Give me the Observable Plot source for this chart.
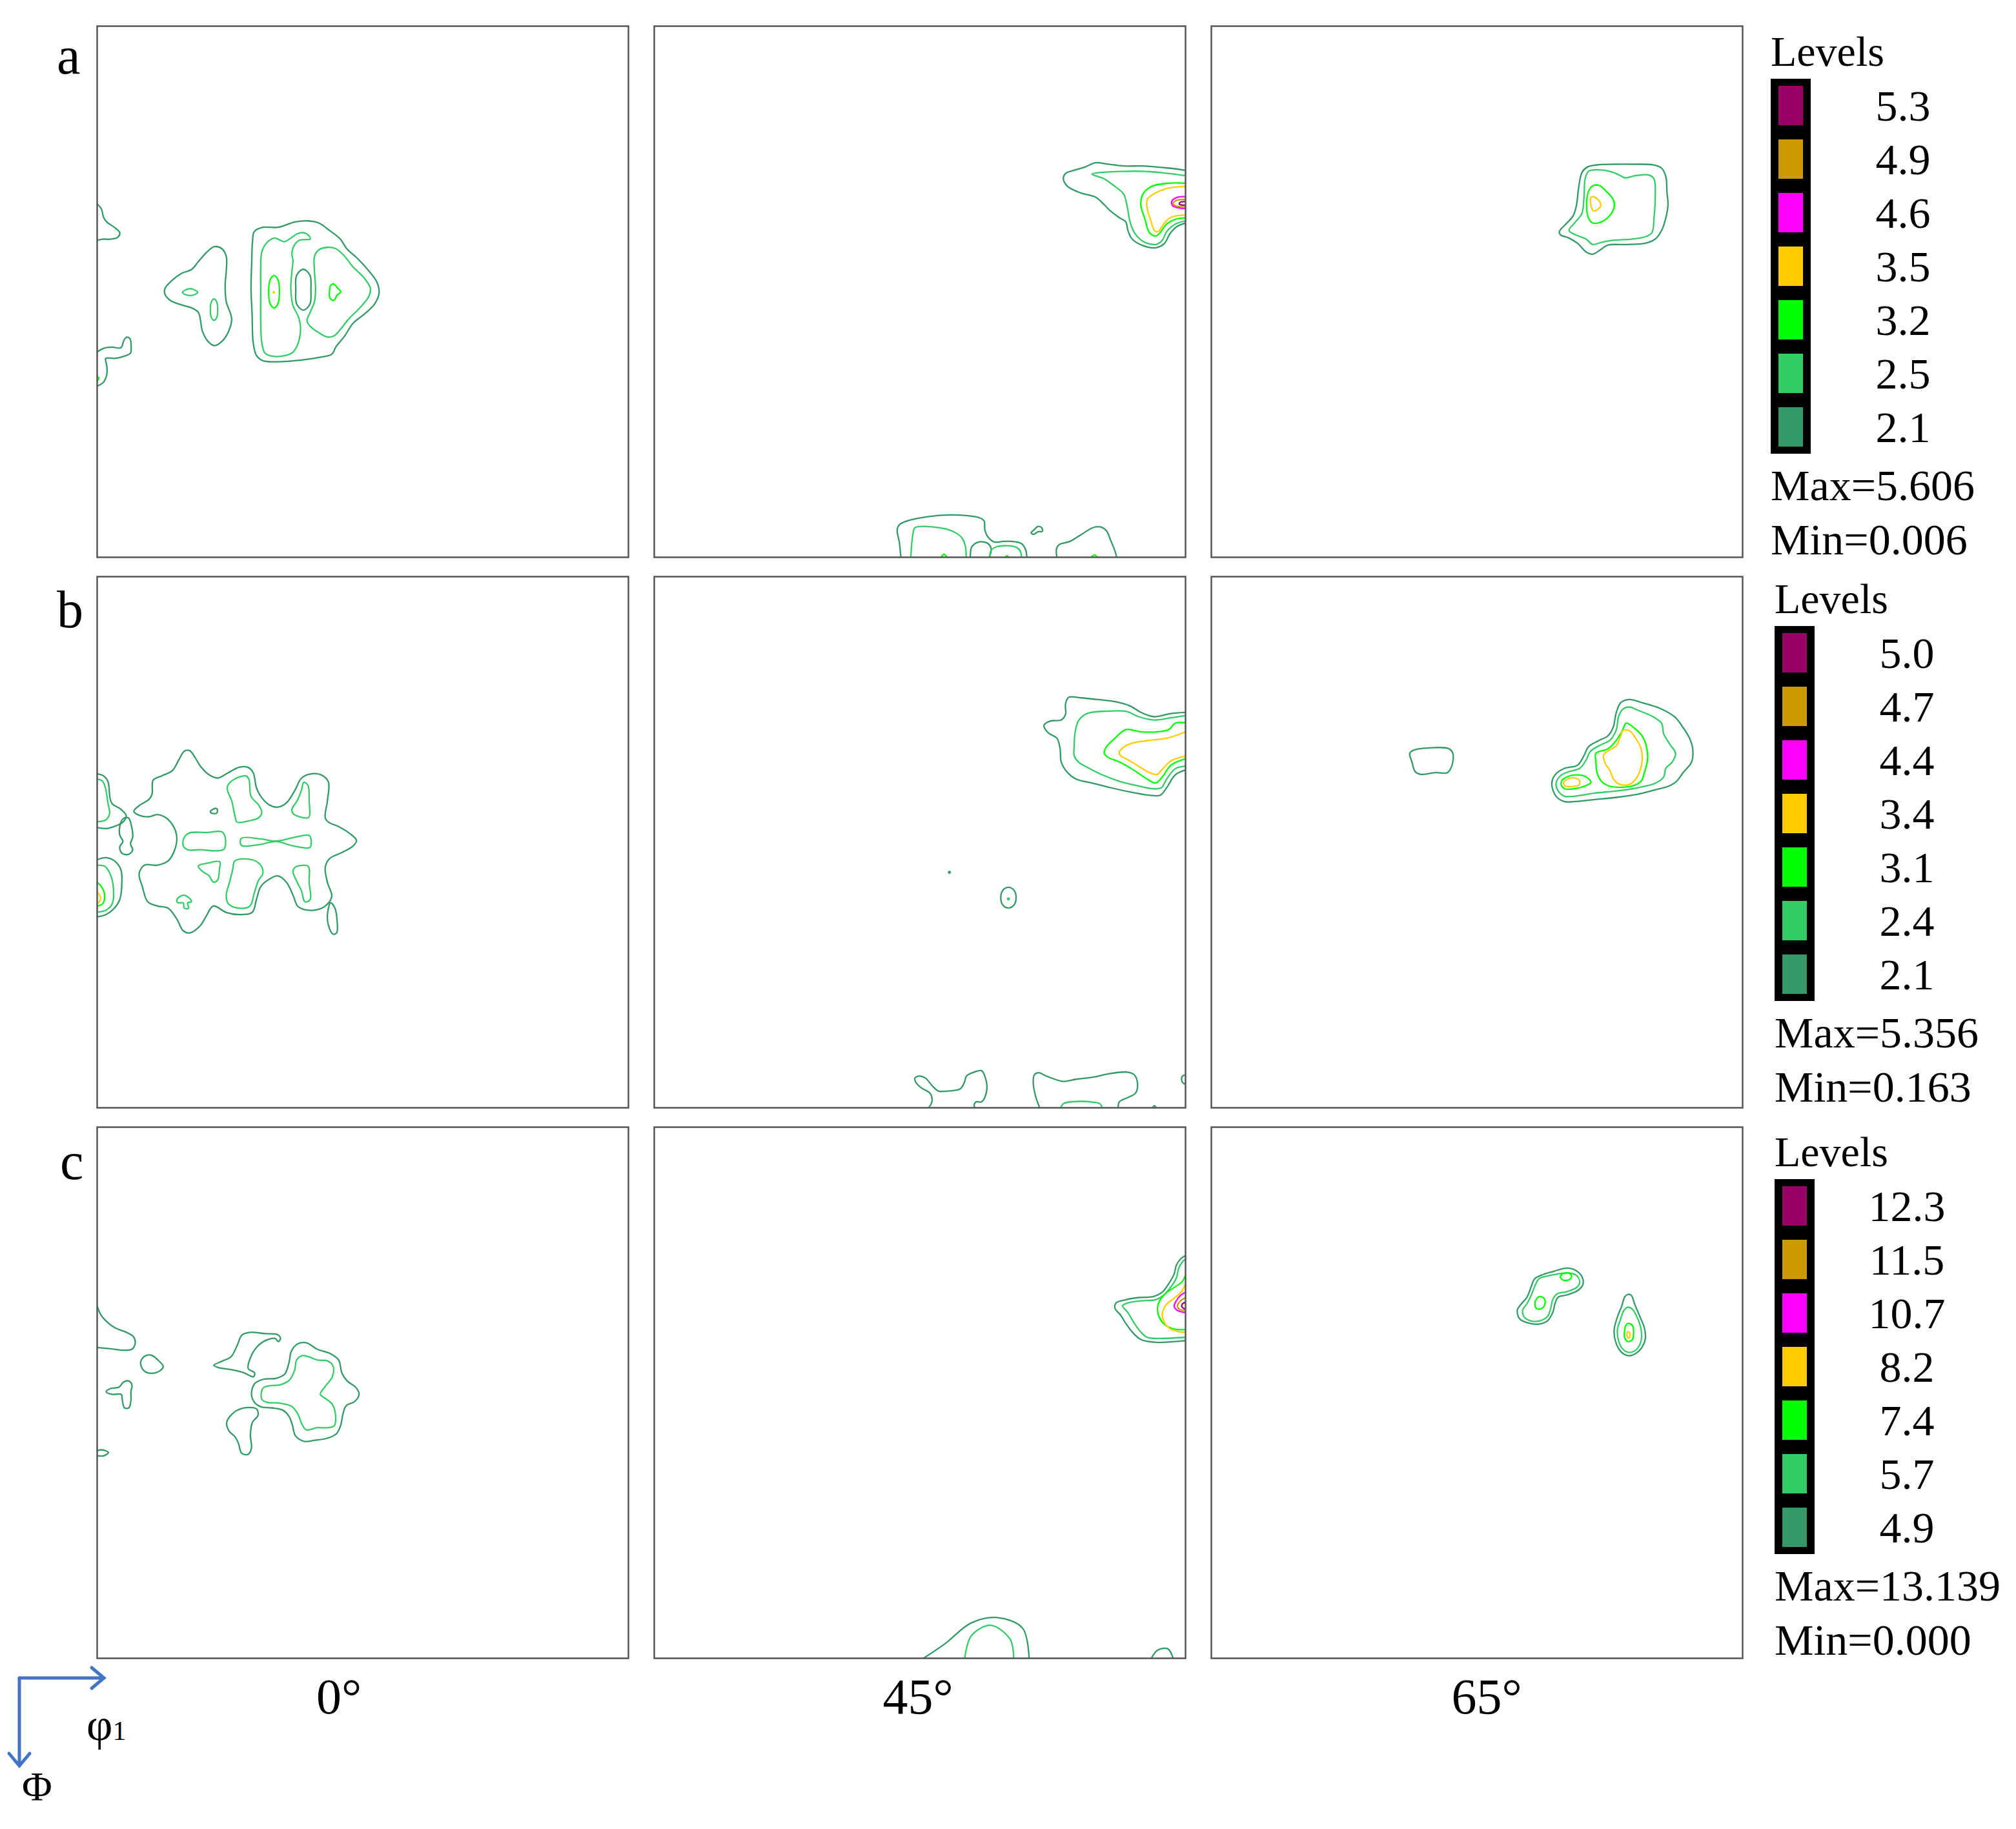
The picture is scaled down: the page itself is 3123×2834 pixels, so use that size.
<!DOCTYPE html>
<html><head><meta charset="utf-8">
<script src="https://cdn.jsdelivr.net/npm/d3@7"></script>
<script src="https://cdn.jsdelivr.net/npm/@observablehq/plot@0.6"></script>
<style>
html,body{margin:0;padding:0;background:#fff;}
#wrap{position:relative;width:3123px;height:2834px;background:#fff;}
#plot{position:absolute;left:148px;top:38px;}
#overlay{position:absolute;left:0;top:0;}
</style></head><body><div id="wrap"><div id="plot"></div></div>
<script>
// ---------- categories ----------
const sections = ["0°", "45°", "65°"];
const rows = ["a", "b", "c"];
// contour level colours, index 0 = lowest level
const levelColors = ["#339966", "#33CC66", "#00FF00", "#FFCC00", "#FF00FF", "#CC9900", "#990066"];
// legend level values (top = highest)
const levelsA = [5.3, 4.9, 4.6, 3.5, 3.2, 2.5, 2.1];
const levelsB = [5.0, 4.7, 4.4, 3.4, 3.1, 2.4, 2.1];
const levelsC = [12.3, 11.5, 10.7, 8.2, 7.4, 5.7, 4.9];
const maxMinA = [5.606, 0.006];
const maxMinB = [5.356, 0.163];
const maxMinC = [13.139, 0.000];

// ---------- contour lines: l = level index, c = closed, p = [phi1, Phi] in degrees ----------
const a0 = [
 {l:0,c:0,p:[[0,30.1],[0.73,31.0],[1.09,32.4],[1.64,33.2],[2.92,34.1],[3.83,35.0],[3.46,35.8],[2.19,36.1],[0.91,36.1],[0,36.3]]},
 {l:0,c:0,p:[[0,55.2],[1.09,54.6],[2.55,54.4],[4.01,54.5],[4.56,53.2],[5.03,52.7],[5.58,53.0],[5.76,54.5],[5.65,55.4],[4.37,56.0],[2.92,56.3],[1.46,56.3],[1.64,57.6],[1.64,59.0],[1.09,60.3],[0,61.0]]},
 {l:2,c:0,p:[[0,59.3],[0.3,59.7],[0,60.1]]},
 {l:0,c:1,p:[[11.48,44.48],[12.76,43.02],[14.22,41.93],[16.04,41.2],[17.13,39.92],[18.59,38.28],[19.87,37.37],[21.14,37.73],[21.87,39.01],[21.87,41.56],[21.69,43.75],[21.87,46.66],[22.79,49.58],[22.24,51.77],[21.14,53.41],[19.87,54.14],[18.77,53.41],[17.86,51.77],[17.13,48.49],[16.04,47.76],[14.22,47.21],[12.4,46.48],[11.48,45.39]]},
 {l:1,c:1,p:[[14.47,45.1],[15.1,44.65],[15.75,44.5],[16.4,44.65],[17.03,45.1],[16.4,45.55],[15.75,45.65],[15.1,45.55]]},
 {l:1,c:1,p:[[19.18,48.03],[19.36,46.7],[19.8,46.21],[20.24,46.7],[20.42,48.03],[20.24,49.4],[19.8,49.85],[19.36,49.4]]},
 {l:0,c:1,p:[[26.61,34.82],[28.07,34.09],[30.62,34.09],[33.54,33.18],[35.73,33.0],[37.55,33.36],[39.37,34.63],[41.2,36.09],[42.29,37.73],[44.11,39.37],[45.94,41.38],[47.39,43.38],[47.76,45.2],[47.03,47.03],[45.21,48.85],[43.38,50.31],[41.93,52.5],[40.47,54.32],[39.74,55.6],[37.55,56.14],[33.54,56.69],[30.26,56.87],[28.07,56.69],[26.98,55.78],[26.43,53.59],[26.25,48.85],[26.07,44.48],[26.18,40.1],[26.32,36.46]]},
 {l:1,c:1,p:[[27.89,38.28],[28.8,36.64],[30.08,35.91],[30.99,36.27],[31.72,36.53],[32.81,35.91],[33.9,35.18],[35.0,35.0],[35.91,35.55],[36.09,36.09],[35.36,36.17],[34.27,36.27],[33.36,37.19],[32.99,38.64],[33.18,39.74],[32.99,41.56],[32.81,44.48],[33.18,47.39],[34.09,49.22],[34.45,51.04],[34.09,53.59],[33.18,55.23],[31.72,55.85],[29.89,55.96],[28.44,55.41],[27.89,53.59],[27.71,49.95],[27.71,44.48],[27.71,40.83]]},
 {l:1,c:1,p:[[36.82,39.01],[37.55,37.92],[39.01,37.48],[40.47,37.73],[41.93,39.01],[43.38,40.83],[45.21,42.65],[46.3,44.48],[45.94,45.94],[44.48,47.76],[42.65,49.58],[41.2,51.4],[40.1,52.5],[39.01,52.68],[37.55,51.95],[36.09,50.86],[35.55,49.95],[36.09,48.49],[36.82,46.66],[37.0,44.48],[36.82,41.56]]},
 {l:0,c:1,p:[[33.65,44.66],[33.8,42.2],[34.93,41.2],[36.05,42.2],[36.21,44.66],[36.05,47.1],[34.93,48.12],[33.8,47.1]]},
 {l:2,c:1,p:[[29.06,45.02],[29.3,43.0],[29.97,42.29],[30.64,43.0],[30.88,45.02],[30.64,47.0],[29.97,47.75],[29.3,47.0]]},
 {l:3,c:1,p:[[29.83,45.1],[29.93,44.98],[30.03,45.1],[29.93,45.22]]},
 {l:2,c:1,p:[[39.37,44.8],[39.56,43.93],[40.1,43.68],[40.65,44.3],[41.27,45.02],[40.65,45.57],[40.1,46.48],[39.44,46.11]]}
];
const a45 = [
 {l:0,c:0,p:[[90,24.43],[87.17,24.06],[82.79,23.7],[79.51,23.7],[76.96,23.4],[74.77,23.15],[72.95,23.88],[71.13,24.43],[69.67,24.97],[69.3,25.88],[70.03,27.16],[72.22,28.25],[74.77,28.98],[76.23,30.26],[77.32,31.35],[78.78,32.45],[79.88,33.18],[80.24,34.63],[80.97,36.09],[82.79,37.19],[84.98,37.55],[86.44,36.82],[87.35,35.18],[88.63,33.9],[90,33.36]]},
 {l:1,c:0,p:[[90,25.34],[87.17,24.97],[83.16,24.61],[79.15,24.61],[76.6,24.72],[74.15,25.08],[76.23,25.88],[78.05,27.16],[79.51,28.44],[80.06,30.26],[80.61,33.18],[81.33,34.99],[82.79,36.46],[84.98,37.0],[86.07,36.27],[86.8,34.82],[88.26,33.54],[90,33.0]]},
 {l:2,c:0,p:[[90,26.61],[87.17,26.61],[84.25,27.16],[82.79,28.44],[82.43,30.26],[83.16,32.81],[83.89,34.99],[84.98,35.55],[85.71,34.99],[86.8,33.54],[88.26,32.73],[90,32.5]]},
 {l:3,c:0,p:[[90,27.16],[86.8,27.52],[84.62,28.44],[83.53,29.35],[83.53,30.99],[84.07,32.81],[84.8,34.71],[85.35,34.82],[86.44,33.36],[87.53,32.4],[90,32.0]]},
 {l:4,c:0,p:[[90,28.88],[88.57,29.02],[87.66,29.71],[87.84,30.44],[88.75,30.77],[90,30.92]]},
 {l:5,c:0,p:[[90,29.35],[88.45,29.53],[87.9,30.08],[88.45,30.48],[90,30.63]]},
 {l:6,c:0,p:[[90,29.74],[89.2,29.8],[88.92,30.1],[89.3,30.3],[90,30.3]]},
 {l:0,c:0,p:[[41.78,90],[41.52,87.5],[41.16,85.31],[41.6,84.4],[43.42,83.67],[46.34,83.12],[49.98,82.83],[52.9,82.94],[55.09,83.3],[55.89,83.85],[56.0,85.31],[56.55,86.58],[57.64,87.42],[59.1,87.31],[60.55,87.31],[62.2,87.68],[62.93,88.77],[63.11,90]]},
 {l:0,c:0,p:[[53.55,90],[53.81,88.22],[55.09,87.39],[56.55,87.68],[57.09,88.77],[56.73,90]]},
 {l:1,c:0,p:[[43.46,90],[43.78,86.33],[44.15,85.02],[45.61,84.76],[47.79,84.94],[49.8,85.31],[51.08,85.86],[52.17,86.77],[52.72,88.22],[52.83,90]]},
 {l:1,c:0,p:[[56.83,90],[57.09,88.77],[58.0,88.22],[59.83,88.04],[61.28,88.29],[62.01,88.95],[62.2,90]]},
 {l:2,c:0,p:[[48.6,90],[49.07,89.5],[49.58,90]]},
 {l:2,c:0,p:[[59.46,90],[59.75,89.75],[60.04,90]]},
 {l:0,c:0,p:[[68.21,90],[68.14,88.59],[68.58,87.86],[70.4,87.31],[72.22,86.22],[74.41,84.94],[75.68,84.87],[76.6,85.49],[77.32,87.13],[78.05,88.95],[78.34,90]]},
 {l:2,c:0,p:[[74.04,90],[74.59,89.61],[75.06,90]]},
 {l:0,c:1,p:[[63.84,85.86],[64.39,85.31],[65.01,84.76],[65.66,85.02],[65.74,85.6],[65.01,85.67],[64.28,86.11]]}
];
const a65 = [
 {l:0,c:1,p:[[58.95,34.82],[60.23,33.36],[61.32,32.08],[61.87,30.26],[62.23,27.34],[62.78,24.79],[63.69,23.88],[65.33,23.51],[68.25,23.4],[71.89,23.4],[74.81,23.51],[76.27,24.06],[77.0,25.52],[77.18,28.07],[77.36,30.26],[77.0,32.45],[76.27,34.63],[75.17,36.09],[73.35,36.82],[70.07,37.0],[67.15,37.11],[65.88,37.92],[64.6,38.64],[63.51,38.28],[62.05,36.82],[60.59,35.91],[59.13,35.36]]},
 {l:1,c:1,p:[[60.59,34.63],[61.68,33.18],[62.78,31.72],[63.14,28.8],[63.32,25.88],[63.87,24.61],[65.33,24.35],[67.52,24.61],[68.98,25.16],[70.07,25.7],[71.89,25.34],[74.08,25.23],[74.99,25.88],[75.17,29.9],[74.99,32.45],[74.63,35.0],[73.35,35.73],[71.16,36.09],[68.25,36.27],[66.06,36.64],[64.6,37.0],[63.51,36.09],[61.68,35.36]]},
 {l:2,c:1,p:[[63.87,28.07],[64.6,27.06],[65.69,26.98],[66.97,28.07],[68.06,29.35],[68.25,30.62],[67.52,32.08],[66.06,33.18],[64.6,33.36],[63.87,32.45],[63.58,30.62]]},
 {l:3,c:1,p:[[64.24,29.17],[64.6,28.88],[65.15,29.09],[65.88,29.89],[65.99,30.44],[65.51,30.99],[64.78,31.35],[64.42,30.81]]}
];
const b0 = [
 {l:0,c:1,p:[[6.2,39.77],[7.29,38.68],[8.75,37.77],[9.3,36.86],[9.48,34.49],[10.94,33.76],[12.76,32.85],[13.85,31.02],[14.76,29.57],[15.68,29.49],[16.59,30.66],[17.5,32.12],[18.96,33.58],[20.42,34.12],[22.24,33.21],[24.06,32.3],[25.52,32.3],[26.43,33.21],[26.98,35.76],[27.71,37.22],[29.17,38.68],[30.62,39.05],[32.08,38.32],[33.54,36.13],[34.63,34.12],[36.46,33.39],[38.28,33.76],[39.19,34.85],[39.01,37.95],[38.64,40.87],[39.19,41.6],[40.83,42.33],[42.65,43.42],[43.93,44.7],[43.38,45.61],[41.56,46.7],[39.37,47.79],[38.64,49.25],[39.01,51.81],[39.74,54.17],[38.64,55.81],[36.46,56.54],[34.09,55.96],[33.18,53.96],[32.08,51.81],[30.62,50.71],[29.17,51.26],[27.71,52.53],[26.98,54.72],[26.25,56.91],[24.06,57.27],[21.87,56.91],[19.69,55.81],[18.41,57.64],[17.5,59.1],[15.68,60.37],[14.58,60.01],[13.49,58.0],[12.03,56.18],[10.21,55.81],[8.57,55.09],[7.66,52.53],[7.11,50.35],[8.02,48.89],[10.21,48.89],[12.03,48.16],[13.12,46.34],[13.49,44.15],[12.94,42.33],[11.67,40.87],[10.21,40.32],[8.75,40.68],[7.29,40.5]]},
 {l:0,c:1,p:[[39.55,55.27],[40.28,56.18],[40.65,58.37],[40.57,60.37],[39.92,60.55],[39.19,59.1],[39.01,57.27]]},
 {l:1,c:1,p:[[22.06,35.58],[22.97,34.49],[25.16,33.76],[25.7,34.31],[26.07,37.22],[27.34,38.68],[27.89,39.95],[27.34,40.87],[25.52,41.42],[23.7,41.6],[23.33,40.5],[22.79,37.95],[22.17,36.49]]},
 {l:1,c:1,p:[[35.0,34.85],[35.73,35.4],[35.91,37.95],[35.84,40.79],[34.27,40.68],[33.18,40.14],[33.0,39.41],[33.9,37.95],[34.63,36.13]]},
 {l:1,c:1,p:[[14.76,44.15],[15.68,43.42],[18.59,43.35],[21.14,43.24],[21.69,44.15],[21.51,46.16],[20.42,46.45],[17.5,46.27],[15.31,46.27],[14.58,45.61]]},
 {l:1,c:1,p:[[24.43,44.33],[27.71,44.44],[30.26,44.81],[33.54,44.15],[35.91,43.86],[36.27,44.88],[36.02,45.9],[33.18,45.61],[30.26,44.88],[27.34,45.43],[24.43,45.54]]},
 {l:1,c:1,p:[[17.13,49.03],[18.96,48.49],[20.78,48.31],[20.71,49.58],[20.42,51.4],[19.69,51.77],[18.96,50.68],[17.86,49.95]]},
 {l:1,c:1,p:[[23.33,48.16],[26.25,47.98],[27.71,48.89],[28.07,50.35],[27.34,51.44],[26.61,53.63],[25.88,55.81],[24.06,56.18],[22.24,55.45],[21.87,53.99],[22.42,51.81],[22.97,49.62]]},
 {l:1,c:1,p:[[33.54,49.25],[35.73,49.07],[35.91,51.81],[36.09,54.72],[35.18,55.09],[34.63,53.27],[33.9,51.81],[33.18,49.98]]},
 {l:1,c:1,p:[[13.49,54.72],[14.58,53.99],[15.68,54.54],[15.97,55.09],[15.31,55.27],[15.5,56.18],[14.76,56.18],[14.58,55.27],[13.67,55.27]]},
 {l:0,c:1,p:[[19.18,39.77],[20.05,39.26],[20.34,39.41],[20.27,40.06],[19.33,40.06]]},
 {l:0,c:0,p:[[0,33.39],[1.09,33.76],[1.82,34.67],[2.19,37.59],[2.55,38.5],[4.01,39.41],[4.92,40.5],[4.37,41.6],[2.92,42.33],[1.46,42.69],[0,42.51]]},
 {l:1,c:0,p:[[0,34.31],[0.91,34.67],[1.39,35.76],[1.82,38.32],[2.11,40.14],[1.46,41.23],[0,41.52]]},
 {l:0,c:1,p:[[4.37,41.05],[5.29,40.87],[5.83,42.33],[6.02,44.15],[5.65,45.24],[6.02,46.34],[5.29,47.06],[4.19,46.88],[3.83,45.79],[4.37,44.88],[3.83,43.79],[3.83,42.33]]},
 {l:0,c:0,p:[[0,47.98],[1.46,47.61],[2.92,48.16],[4.01,49.62],[4.19,51.81],[3.83,54.72],[2.92,56.18],[1.46,57.27],[0,57.64]]},
 {l:1,c:0,p:[[0,48.89],[1.28,49.07],[2.19,50.35],[2.73,52.53],[2.55,55.45],[1.46,56.54],[0,56.83]]},
 {l:2,c:0,p:[[0,51.81],[0.73,52.53],[1.28,53.99],[0.91,55.45],[0,55.81]]},
 {l:3,c:0,p:[[0,53.45],[0.44,53.99],[0.55,54.72],[0.18,55.27],[0,55.38]]}
];
const b45 = [
 {l:0,c:0,p:[[90,23.0],[87.53,23.19],[84.62,23.73],[82.43,23.0],[80.61,21.91],[78.05,21.18],[75.14,20.82],[72.22,20.53],[70.21,20.45],[69.67,21.55],[69.67,23.37],[68.95,24.28],[67.12,24.46],[66.02,25.19],[66.75,26.47],[68.21,27.38],[68.76,29.2],[68.94,31.39],[70.03,33.21],[71.49,34.31],[74.41,35.03],[77.32,35.76],[80.61,36.49],[83.89,37.04],[85.71,37.04],[86.8,35.76],[88.26,33.58],[90,32.77]]},
 {l:1,c:0,p:[[90,23.55],[87.53,23.92],[84.62,24.28],[82.06,23.73],[79.88,22.82],[76.23,22.82],[74.04,23.0],[72.95,23.37],[71.85,24.46],[71.31,26.29],[71.13,28.84],[71.13,30.3],[71.85,31.39],[73.68,32.48],[75.87,33.58],[78.78,34.67],[81.7,35.4],[84.62,35.95],[85.9,35.76],[86.8,34.31],[88.26,32.55],[90,32.11]]},
 {l:2,c:0,p:[[90,24.75],[88.26,24.83],[87.17,25.92],[85.35,26.29],[82.43,26.29],[79.88,25.92],[78.05,27.38],[76.6,28.84],[76.23,29.93],[76.96,30.66],[78.78,31.39],[81.33,32.85],[83.52,34.31],[84.98,34.96],[86.07,33.94],[87.53,31.94],[90,30.84]]},
 {l:3,c:0,p:[[90,26.29],[88.63,26.83],[86.8,27.38],[83.89,27.74],[81.33,28.11],[79.88,28.66],[78.78,29.75],[78.96,30.3],[80.24,31.02],[82.06,32.12],[83.89,33.21],[85.17,33.5],[86.07,32.66],[87.53,31.21],[90,30.4]]},
 {l:0,c:1,p:[[58.7,54.4],[59.1,53.1],[60.0,52.65],[60.9,53.1],[61.3,54.4],[60.9,55.7],[60.0,56.15],[59.1,55.7]]},
 {l:1,c:1,p:[[59.85,54.6],[60.0,54.45],[60.15,54.6],[60.0,54.75]]},
 {l:0,c:1,p:[[49.85,50.1],[50.0,49.95],[50.15,50.1],[50.0,50.25]]},
 {l:0,c:0,p:[[46.52,90],[47.07,88.81],[46.71,87.53],[45.24,86.62],[44.33,85.71],[44.15,84.98],[44.88,84.62],[45.97,84.98],[47.07,86.26],[48.16,87.17],[49.62,87.17],[51.81,86.8],[52.53,85.71],[52.9,84.62],[54.36,83.89],[55.45,83.7],[55.99,84.62],[56.36,86.44],[55.99,88.26],[55.45,88.99],[54.54,88.99],[54.18,89.53],[54.36,90]]},
 {l:0,c:0,p:[[65.29,90],[64.56,87.9],[64.2,85.71],[64.38,84.43],[65.11,84.06],[66.39,84.62],[67.85,85.16],[69.3,85.53],[71.49,85.16],[74.41,84.8],[76.96,84.25],[80.24,83.96],[81.33,84.43],[81.88,86.07],[81.52,87.53],[80.24,88.26],[78.78,88.99],[78.6,90]]},
 {l:1,c:0,p:[[68.87,90],[69.3,89.31],[71.13,88.95],[74.41,89.06],[75.5,89.31],[75.87,90]]},
 {l:0,c:0,p:[[90,84.43],[89.5,84.6],[89.35,85.35],[89.7,85.9],[90,85.9]]},
 {l:0,c:0,p:[[84.43,90],[84.73,89.64],[85.06,90]]}
];
const b65 = [
 {l:0,c:1,p:[[33.61,29.93],[34.34,29.38],[36.89,29.02],[40.18,29.13],[40.91,29.93],[40.72,32.12],[39.99,33.21],[37.99,33.21],[35.44,33.5],[34.52,33.03],[33.98,31.39]]},
 {l:0,c:1,p:[[57.67,35.03],[58.4,33.39],[59.86,32.48],[62.05,31.94],[63.14,30.3],[63.87,28.84],[65.69,27.74],[67.15,27.01],[68.06,25.56],[68.61,23.0],[69.34,21.36],[70.8,20.82],[72.99,21.36],[75.9,22.28],[78.45,23.73],[79.91,25.56],[81.01,27.38],[81.55,29.2],[81.37,31.39],[79.91,33.21],[78.82,34.67],[77.72,35.4],[75.17,36.13],[72.26,36.86],[68.61,37.4],[64.97,37.77],[61.32,38.13],[59.86,38.13],[58.4,37.22]]},
 {l:1,c:1,p:[[58.4,35.03],[59.13,33.76],[60.59,33.03],[62.41,32.48],[63.51,31.02],[64.24,29.57],[66.06,28.47],[67.52,27.74],[68.61,25.92],[68.98,23.73],[69.71,22.46],[70.8,22.09],[72.26,22.64],[74.81,23.73],[76.27,24.83],[76.63,26.65],[77.72,28.47],[78.64,29.93],[78.09,31.39],[76.99,32.48],[76.63,33.94],[75.17,35.03],[72.26,35.76],[68.61,36.31],[64.97,36.68],[61.32,37.22],[59.86,37.22],[58.76,36.31]]},
 {l:2,c:1,p:[[65.15,29.93],[67.15,29.2],[68.61,27.74],[69.71,25.92],[70.25,24.83],[71.53,25.56],[72.99,27.01],[73.72,28.84],[73.9,31.02],[73.35,33.21],[72.81,34.67],[71.53,35.4],[69.34,35.69],[67.15,35.4],[66.06,34.67],[65.33,33.21],[65.15,31.39]]},
 {l:3,c:1,p:[[66.42,30.3],[67.15,29.57],[68.61,28.66],[69.34,27.01],[69.71,26.1],[70.8,26.1],[71.89,27.38],[72.81,29.2],[72.99,31.02],[72.63,32.85],[71.89,34.31],[70.8,35.22],[69.34,35.22],[68.24,34.49],[67.52,32.85],[66.79,31.75]]},
 {l:2,c:1,p:[[59.32,34.67],[60.23,33.94],[62.05,33.58],[63.51,33.94],[64.31,34.85],[63.51,35.4],[61.32,35.95],[59.86,35.95],[59.32,35.4]]},
 {l:3,c:1,p:[[59.68,34.85],[60.59,34.23],[61.68,34.12],[62.41,34.67],[62.23,35.32],[60.95,35.58],[59.93,35.47]]}
];
const c0 = [
 {l:0,c:0,p:[[0,30.33],[0.62,31.78],[1.53,32.88],[2.99,33.98],[4.81,34.71],[6.09,35.44],[6.45,36.53],[5.9,37.62],[4.45,37.8],[2.26,37.55],[0,37.33]]},
 {l:0,c:1,p:[[7.36,39.81],[8.09,38.79],[9.19,38.65],[10.28,39.45],[11.19,40.55],[10.65,41.27],[9.19,41.71],[7.91,41.27]]},
 {l:0,c:1,p:[[1.53,44.84],[2.26,44.29],[3.72,44.04],[4.45,43.2],[5.36,43.02],[5.91,43.75],[5.72,44.84],[5.72,46.3],[5.36,47.57],[4.63,47.57],[4.27,46.3],[4.08,45.28],[2.63,45.28]]},
 {l:0,c:0,p:[[0,54.83],[0.8,54.68],[1.9,55.12],[1.17,55.67],[0,55.67]]},
 {l:0,c:1,p:[[19.76,40.36],[21.22,39.63],[22.68,38.9],[23.77,36.89],[24.5,35.25],[25.96,34.77],[28.51,34.99],[30.52,35.14],[31.06,35.8],[30.7,36.35],[30.15,35.8],[28.51,36.16],[27.05,37.26],[25.96,39.08],[25.59,40.91],[26.68,41.63],[26.5,42.29],[24.86,41.63],[22.68,41.09],[20.49,40.72]]},
 {l:0,c:1,p:[[21.95,49.98],[23.41,48.16],[25.59,47.5],[27.05,47.79],[27.23,48.89],[26.32,49.98],[25.96,52.17],[26.14,54.36],[25.59,55.45],[24.5,55.27],[23.95,53.63],[23.41,52.53],[22.31,51.44]]},
 {l:0,c:1,p:[[26.14,45.28],[26.68,43.46],[28.14,42.73],[30.33,42.55],[31.79,41.82],[32.52,39.81],[32.88,37.99],[33.98,36.71],[35.44,36.53],[37.26,37.62],[39.45,38.35],[40.91,39.45],[41.45,41.63],[42.37,43.02],[43.83,44.11],[44.37,45.21],[43.64,46.48],[42.18,47.21],[41.63,48.67],[41.27,50.49],[40.54,51.95],[39.08,52.68],[36.89,53.05],[35.07,53.23],[33.61,52.31],[33.07,50.49],[32.52,49.03],[31.42,47.94],[29.6,47.57],[27.78,47.39],[26.68,46.66]]},
 {l:1,c:1,p:[[27.78,45.46],[28.14,44.18],[29.24,43.82],[31.06,43.64],[32.52,42.91],[33.43,41.27],[33.8,39.45],[34.71,38.72],[35.8,38.9],[37.26,39.45],[39.08,39.63],[39.99,40.54],[39.81,42.37],[38.72,43.82],[37.81,45.28],[38.72,46.01],[39.81,46.92],[40.36,48.56],[40.18,50.57],[39.08,50.93],[37.26,50.93],[35.44,51.29],[34.71,50.38],[33.98,48.56],[32.88,47.28],[30.7,46.73],[28.87,46.66],[27.96,46.19]]}
];
const c45 = [
 {l:0,c:0,p:[[90,21.76],[89.17,22.31],[88.45,23.41],[88.08,24.86],[87.17,26.5],[86.07,27.96],[84.62,28.69],[82.06,28.87],[79.88,29.24],[78.24,29.78],[78.05,30.7],[78.96,31.79],[79.88,33.25],[80.97,34.71],[82.43,35.98],[84.98,36.46],[87.89,36.35],[90,36.18]]},
 {l:1,c:0,p:[[90,22.31],[89.46,22.86],[88.83,23.95],[88.45,25.59],[87.53,27.05],[86.26,28.51],[84.98,29.24],[82.43,29.42],[80.24,29.78],[79.33,30.26],[80.24,31.42],[81.33,33.25],[82.43,34.71],[83.52,35.62],[85.71,35.8],[87.89,35.73],[90,35.62]]},
 {l:2,c:0,p:[[90,25.16],[89.35,26.28],[88.26,27.05],[86.8,28.04],[85.71,29.24],[85.27,30.51],[85.53,32.15],[86.44,33.42],[87.89,34.15],[90,34.33]]},
 {l:3,c:0,p:[[90,26.61],[89.17,28.04],[87.89,29.13],[86.62,30.22],[86.07,31.68],[86.44,33.14],[87.53,34.23],[88.99,34.67],[90,34.78]]},
 {l:4,c:0,p:[[90,27.96],[89.17,28.51],[88.45,29.42],[88.08,30.33],[88.63,31.06],[90,31.42]]},
 {l:5,c:0,p:[[90,28.88],[89.17,29.42],[88.63,30.33],[88.99,30.88],[90,31.06]]},
 {l:6,c:0,p:[[90,29.68],[89.53,29.89],[89.35,30.33],[89.64,30.7],[90,30.77]]},
 {l:0,c:0,p:[[45.6,90],[49.3,87.5],[53.7,84.0],[58.1,83.1],[62.4,84.9],[63.5,90]]},
 {l:1,c:0,p:[[52.6,90],[53.7,86.2],[57.0,84.4],[60.3,86.8],[60.9,90]]},
 {l:0,c:0,p:[[84.2,90],[85.3,88.6],[87.0,88.4],[87.9,90]]}
];
const c65 = [
 {l:0,c:1,p:[[51.84,30.97],[52.57,29.88],[53.48,28.8],[54.21,26.97],[54.76,25.69],[56.22,24.96],[58.04,24.42],[60.23,23.87],[61.68,24.24],[62.78,25.33],[62.96,26.61],[62.05,27.7],[60.23,28.43],[58.77,28.8],[58.22,29.88],[57.86,31.35],[56.95,32.81],[55.49,33.36],[53.66,33.18],[52.21,32.45]]},
 {l:1,c:1,p:[[52.75,30.97],[53.48,29.88],[54.21,28.43],[54.94,26.61],[55.49,25.69],[56.95,25.22],[58.77,24.86],[60.59,24.71],[61.87,25.15],[62.41,26.24],[61.87,27.15],[60.23,27.88],[58.59,28.25],[57.86,29.16],[57.5,30.62],[56.95,32.08],[55.67,32.81],[54.03,32.81],[52.94,32.08]]},
 {l:2,c:1,p:[[59.13,25.41],[59.5,24.86],[60.59,24.75],[61.03,25.15],[60.77,25.77],[59.68,25.96]]},
 {l:2,c:1,p:[[54.83,30.15],[55.12,29.05],[55.67,28.69],[56.4,29.05],[56.51,29.97],[56.03,30.7],[55.12,30.77]]},
 {l:0,c:1,p:[[70.62,28.33],[71.16,28.51],[71.71,29.97],[72.62,32.15],[73.35,33.98],[73.53,35.8],[72.99,37.26],[71.89,38.35],[70.62,38.72],[69.34,37.99],[68.43,36.17],[68.24,34.34],[68.79,32.15],[69.52,30.33],[70.07,28.69]]},
 {l:1,c:1,p:[[70.62,30.51],[71.35,30.88],[72.26,32.52],[72.81,34.34],[72.81,36.17],[72.08,37.62],[70.8,38.17],[69.71,37.62],[68.98,36.17],[68.79,34.34],[69.34,32.52],[69.89,31.06]]},
 {l:2,c:1,p:[[70.62,33.25],[71.35,33.61],[71.53,34.89],[71.35,35.98],[70.62,36.35],[70.07,35.8],[70.0,34.52],[70.25,33.54]]},
 {l:3,c:1,p:[[70.62,34.63],[70.87,34.89],[70.91,35.44],[70.66,35.73],[70.44,35.44],[70.44,34.89]]}
];

// ---------- build tidy table ----------
const panels = [
 {row:"a", sec:"0°", cs:a0}, {row:"a", sec:"45°", cs:a45}, {row:"a", sec:"65°", cs:a65},
 {row:"b", sec:"0°", cs:b0}, {row:"b", sec:"45°", cs:b45}, {row:"b", sec:"65°", cs:b65},
 {row:"c", sec:"0°", cs:c0}, {row:"c", sec:"45°", cs:c45}, {row:"c", sec:"65°", cs:c65}
];
const pts = [];
panels.forEach((P, pi) => P.cs.forEach((c, ci) => c.p.forEach(([x, y]) =>
  pts.push({row: P.row, sec: P.sec, id: pi + "-" + ci, lvl: c.l, closed: !!c.c, phi1: x, Phi: y}))));

const lineOpts = {x: "phi1", y: "Phi", z: "id", stroke: "lvl", fx: "sec", fy: "row", strokeWidth: 2.3, clip: true};
const chart = Plot.plot({
  width: 2553, height: 2533,
  marginLeft: 2, marginRight: 2, marginTop: 2, marginBottom: 2,
  x: {domain: [0, 90], axis: null},
  y: {domain: [0, 90], reverse: true, axis: null},
  fx: {domain: sections, paddingInner: 0.0464, paddingOuter: 0, axis: null, label: null},
  fy: {domain: rows, paddingInner: 0.0352, paddingOuter: 0, axis: null, label: null},
  color: {type: "ordinal", domain: d3.range(7), range: levelColors},
  marks: [
    Plot.line(pts.filter(d => d.closed), {...lineOpts, curve: "catmull-rom-closed"}),
    Plot.line(pts.filter(d => !d.closed), {...lineOpts, curve: "catmull-rom"}),
    Plot.frame({stroke: "#555", strokeWidth: 2.5})
  ]
});
document.getElementById("plot").appendChild(chart);

// ---------- legends, labels, axes arrows ----------
const font = "'Liberation Serif', 'Times New Roman', serif";
const svg = d3.select("#wrap").append("svg").attr("id", "overlay")
  .attr("width", 3123).attr("height", 2834).style("font-family", font);

const legends = [
  {levels: levelsA, mm: maxMinA, dx: 0, dy: 0},
  {levels: levelsB, mm: maxMinB, dx: 6, dy: 848},
  {levels: levelsC, mm: maxMinC, dx: 6, dy: 1705}
];
const swatchColors = levelColors.slice().reverse();
legends.forEach(L => {
  const g = svg.append("g").attr("transform", `translate(${L.dx},${L.dy})`);
  g.append("text").attr("x", 2743).attr("y", 102).attr("font-size", 66).text("Levels");
  g.append("rect").attr("x", 2743).attr("y", 122).attr("width", 62).attr("height", 581).attr("fill", "#000");
  L.levels.forEach((v, i) => {
    g.append("rect").attr("x", 2755).attr("y", 133 + i * 83).attr("width", 38).attr("height", 61).attr("fill", swatchColors[i]);
    g.append("text").attr("x", 2948).attr("y", 187 + i * 83).attr("font-size", 68)
      .attr("text-anchor", "middle").text(v.toFixed(1));
  });
  g.append("text").attr("x", 2743).attr("y", 775).attr("font-size", 68).text("Max=" + L.mm[0].toFixed(3));
  g.append("text").attr("x", 2743).attr("y", 859).attr("font-size", 68).text("Min=" + L.mm[1].toFixed(3));
});

// row labels
const rowLabelPos = [[88, 114], [88, 972], [93, 1827]];
rows.forEach((r, i) => svg.append("text").attr("x", rowLabelPos[i][0]).attr("y", rowLabelPos[i][1])
  .attr("font-size", 82).text(r));
// section labels
const secLabelX = [525, 1422, 2303];
sections.forEach((s, i) => svg.append("text").attr("x", secLabelX[i]).attr("y", 2655)
  .attr("font-size", 78).attr("text-anchor", "middle").text(s));

// axis direction arrows
const blue = "#4472C4";
const ag = svg.append("g").attr("stroke", blue).attr("stroke-width", 5).attr("fill", "none").attr("stroke-linecap", "round");
ag.append("path").attr("d", "M30,2600 H160 M142,2584 L161,2600 L142,2616");
ag.append("path").attr("d", "M30,2600 V738".replace("738", "2735") + " M14,2717 L30,2736 L46,2717");
const phi = svg.append("text").attr("x", 134).attr("y", 2696).attr("font-size", 70);
phi.append("tspan").text("φ");
phi.append("tspan").attr("font-size", 42).text("1");
svg.append("text").attr("x", 34).attr("y", 2790).attr("font-size", 64).text("Φ");
</script>
</body></html>
